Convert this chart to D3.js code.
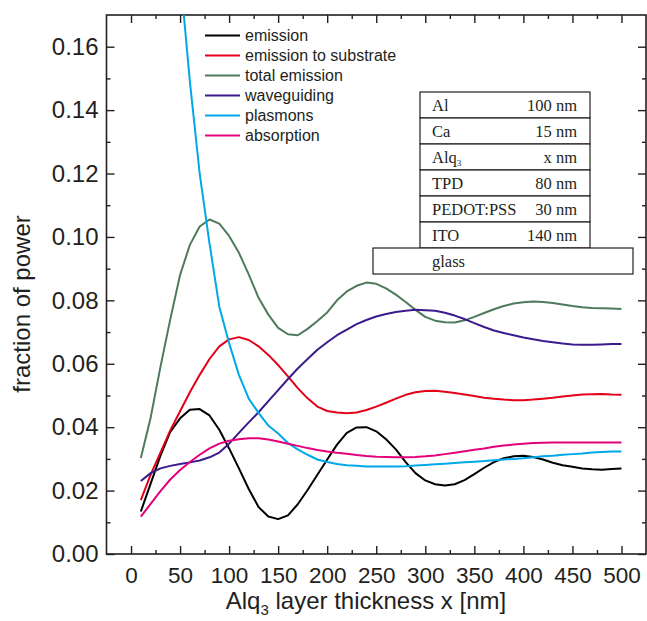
<!DOCTYPE html>
<html>
<head>
<meta charset="utf-8">
<script src="https://cdn.jsdelivr.net/npm/d3@7"></script>
<style>
  body { margin: 0; background: #fff; }
  svg { display: block; }
  .sans { font-family: "Liberation Sans", Arial, Helvetica, sans-serif; fill: #231f20; }
  .serif { font-family: "Liberation Serif", "Times New Roman", serif; fill: #231f20; }
</style>
</head>
<body>
<script>
// Alq3 thickness in nm (x values of every curve)
var thickness = [10, 20, 30, 40, 50, 60, 70, 80, 90, 100,
  110, 120, 130, 140, 150, 160, 170, 180, 190, 200,
  210, 220, 230, 240, 250, 260, 270, 280, 290, 300,
  310, 320, 330, 340, 350, 360, 370, 380, 390, 400,
  410, 420, 430, 440, 450, 460, 470, 480, 490, 500];

// fraction of power
var emission = [0.0134, 0.0222, 0.031, 0.0385, 0.0428, 0.0455, 0.0457, 0.0437, 0.0392, 0.0333,
  0.027, 0.0205, 0.0148, 0.0118, 0.011, 0.0122, 0.0157, 0.0202, 0.025, 0.0298,
  0.0345, 0.0382, 0.0399, 0.0400, 0.0387, 0.0362, 0.033, 0.029, 0.0255, 0.0232,
  0.022, 0.0216, 0.022, 0.0233, 0.0252, 0.0272, 0.029, 0.0302, 0.0308, 0.031,
  0.0306, 0.0298, 0.0288, 0.028, 0.0275, 0.027, 0.0267, 0.0266, 0.0268, 0.027];

var substrate = [0.017, 0.025, 0.032, 0.039, 0.045, 0.051, 0.0565, 0.0615, 0.0655, 0.0677,
  0.0684, 0.0675, 0.0655, 0.0628, 0.0596, 0.056, 0.0523, 0.0491, 0.0465, 0.0451,
  0.0446, 0.0444, 0.0446, 0.0454, 0.0465, 0.0477, 0.049, 0.0502, 0.051, 0.0514,
  0.0515, 0.0512, 0.0508, 0.0503, 0.0498, 0.0493, 0.049, 0.0487, 0.0485, 0.0485,
  0.0487, 0.049, 0.0493, 0.0497, 0.05, 0.0503, 0.0504, 0.0505, 0.0503, 0.0502];

var totalEmission = [0.0303, 0.043, 0.059, 0.074, 0.088, 0.0975, 0.1033, 0.1055, 0.1042, 0.1003,
  0.095, 0.0882, 0.0808, 0.0755, 0.0713, 0.0693, 0.069, 0.071, 0.0735, 0.0762,
  0.08, 0.0828, 0.0846, 0.0856, 0.0852, 0.0838, 0.0818, 0.0795, 0.077, 0.0748,
  0.0736, 0.0731, 0.073, 0.0737, 0.0748, 0.076, 0.0772, 0.0782, 0.079, 0.0794,
  0.0796, 0.0795, 0.0792, 0.0787, 0.0782, 0.0778, 0.0776, 0.0775, 0.0774, 0.0773];

var waveguiding = [0.023, 0.0255, 0.027, 0.0278, 0.0284, 0.0289, 0.0295, 0.0305, 0.032, 0.0348,
  0.0382, 0.0415, 0.0447, 0.0482, 0.0517, 0.0552, 0.0585, 0.0615, 0.0644, 0.0668,
  0.069, 0.0708, 0.0725, 0.0738, 0.0749, 0.0757, 0.0763, 0.0767, 0.077, 0.0769,
  0.0767, 0.0761, 0.0752, 0.0741, 0.0728, 0.0716, 0.0705, 0.0697, 0.069, 0.0683,
  0.0677, 0.0672, 0.0668, 0.0664, 0.0661, 0.066, 0.066, 0.0661, 0.0662, 0.0662];

var plasmons = [0.45, 0.35, 0.275, 0.22, 0.183, 0.149, 0.12, 0.098, 0.078, 0.0665,
  0.0565, 0.049, 0.0445, 0.0405, 0.038, 0.035, 0.033, 0.0313, 0.0298, 0.029,
  0.0284, 0.028, 0.0278, 0.0276, 0.0276, 0.0276, 0.0276, 0.0277, 0.0279, 0.0281,
  0.0283, 0.0285, 0.0287, 0.0289, 0.0291, 0.0293, 0.0296, 0.0298, 0.03, 0.0302,
  0.0305, 0.0308, 0.031, 0.0313, 0.0315, 0.0317, 0.032, 0.0322, 0.0323, 0.0323];

var absorption = [0.0118, 0.0158, 0.0198, 0.0235, 0.0265, 0.029, 0.0313, 0.0333, 0.0348, 0.0357,
  0.0362, 0.0365, 0.0365, 0.0361, 0.0355, 0.0348, 0.0341, 0.0334, 0.0328, 0.0323,
  0.0319, 0.0316, 0.0312, 0.0309, 0.0307, 0.0306, 0.0305, 0.0305, 0.0306, 0.0308,
  0.0311, 0.0315, 0.0319, 0.0324, 0.0329, 0.0333, 0.0338, 0.0342, 0.0345, 0.0348,
  0.035, 0.0351, 0.0352, 0.0352, 0.0352, 0.0352, 0.0352, 0.0352, 0.0352, 0.0352];

var seriesNames = ["emission", "emission to substrate", "total emission", "waveguiding", "plasmons", "absorption"];
var seriesColors = ["#000000", "#e2001a", "#4e7a5c", "#3a1a8c", "#00a8e8", "#e4007c"];
var seriesValues = [emission, substrate, totalEmission, waveguiding, plasmons, absorption];

// layer stack of the device (drawn as a small table)
var layerNames = ["Al", "Ca", "Alq", "TPD", "PEDOT:PSS", "ITO"];
var layerThickness = ["100 nm", "15 nm", "x nm", "80 nm", "30 nm", "140 nm"];

var xMajor = [0, 50, 100, 150, 200, 250, 300, 350, 400, 450, 500];
var xMinor = [25, 75, 125, 175, 225, 275, 325, 375, 425, 475];
var yMajor = [0, 0.02, 0.04, 0.06, 0.08, 0.10, 0.12, 0.14, 0.16];
var yMinor = [0.01, 0.03, 0.05, 0.07, 0.09, 0.11, 0.13, 0.15];

var svg_width = 647;
var svg_height = 621;
var plotLeft = 106.5, plotRight = 646, plotTop = 15, plotBottom = 554;

var svg = d3.select("body").append("svg")
  .attr("width", svg_width)
  .attr("height", svg_height);

var xScale = d3.scaleLinear().domain([-25, 525]).range([plotLeft, plotRight]);
var yScale = d3.scaleLinear().domain([0, 0.17]).range([plotBottom, plotTop]);

// clip so the plasmon curve stops at the top frame
svg.append("clipPath").attr("id", "plotclip")
  .append("rect")
  .attr("x", plotLeft).attr("y", plotTop)
  .attr("width", plotRight - plotLeft).attr("height", plotBottom - plotTop);

// axes: ticks point inward on all four sides
function styleAxis(g) {
  g.select(".domain").remove();
  g.selectAll(".tick line").attr("stroke", "#231f20").attr("stroke-width", 1.4);
  g.selectAll(".tick text").attr("class", "sans").attr("fill", "#231f20");
}

svg.append("g")
  .attr("transform", "translate(0," + plotBottom + ")")
  .call(d3.axisBottom(xScale).tickValues(xMajor).tickSize(-8).tickPadding(13).tickFormat(d3.format("d")))
  .call(styleAxis)
  .selectAll("text").style("font-size", "22.5px");

svg.append("g")
  .attr("transform", "translate(0," + plotBottom + ")")
  .call(d3.axisBottom(xScale).tickValues(xMinor).tickSize(-4).tickFormat(""))
  .call(styleAxis);

svg.append("g")
  .attr("transform", "translate(0," + plotTop + ")")
  .call(d3.axisTop(xScale).tickValues(xMajor).tickSize(-8).tickFormat(""))
  .call(styleAxis);

svg.append("g")
  .attr("transform", "translate(0," + plotTop + ")")
  .call(d3.axisTop(xScale).tickValues(xMinor).tickSize(-4).tickFormat(""))
  .call(styleAxis);

svg.append("g")
  .attr("transform", "translate(" + plotLeft + ",0)")
  .call(d3.axisLeft(yScale).tickValues(yMajor).tickSize(-8).tickPadding(8).tickFormat(d3.format(".2f")))
  .call(styleAxis)
  .selectAll("text").style("font-size", "24px");

svg.append("g")
  .attr("transform", "translate(" + plotLeft + ",0)")
  .call(d3.axisLeft(yScale).tickValues(yMinor).tickSize(-4).tickFormat(""))
  .call(styleAxis);

svg.append("g")
  .attr("transform", "translate(" + plotRight + ",0)")
  .call(d3.axisRight(yScale).tickValues(yMajor).tickSize(-8).tickFormat(""))
  .call(styleAxis);

svg.append("g")
  .attr("transform", "translate(" + plotRight + ",0)")
  .call(d3.axisRight(yScale).tickValues(yMinor).tickSize(-4).tickFormat(""))
  .call(styleAxis);

// frame
svg.append("rect")
  .attr("x", plotLeft).attr("y", plotTop)
  .attr("width", plotRight - plotLeft).attr("height", plotBottom - plotTop)
  .attr("fill", "none")
  .attr("stroke", "#231f20")
  .attr("stroke-width", 1.6);

// curves
var line = d3.line()
  .x(function(d, i) { return xScale(thickness[i]); })
  .y(function(d) { return yScale(d); });

svg.append("g").attr("clip-path", "url(#plotclip)")
  .selectAll("path")
  .data(seriesValues)
  .enter()
  .append("path")
  .attr("d", line)
  .attr("fill", "none")
  .attr("stroke", function(d, i) { return seriesColors[i]; })
  .attr("stroke-width", 2)
  .attr("stroke-linejoin", "round");

// legend
var legend = svg.append("g");
legend.selectAll("line")
  .data(seriesNames)
  .enter()
  .append("line")
  .attr("x1", 205).attr("x2", 240)
  .attr("y1", function(d, i) { return 35.5 + i * 20; })
  .attr("y2", function(d, i) { return 35.5 + i * 20; })
  .attr("stroke", function(d, i) { return seriesColors[i]; })
  .attr("stroke-width", 2);

legend.selectAll("text")
  .data(seriesNames)
  .enter()
  .append("text")
  .attr("class", "sans")
  .attr("x", 245)
  .attr("y", function(d, i) { return 35.5 + i * 20; })
  .attr("dy", "0.35em")
  .style("font-size", "16px")
  .text(function(d) { return d; });

// layer stack table
var rowH = 26, boxLeft = 420, boxRight = 590, boxTop = 92;
var table = svg.append("g");
layerNames.forEach(function(name, i) {
  var yTop = boxTop + i * rowH;
  table.append("rect")
    .attr("x", boxLeft).attr("y", yTop)
    .attr("width", boxRight - boxLeft).attr("height", rowH)
    .attr("fill", "#fff").attr("stroke", "#231f20").attr("stroke-width", 1.2);
  var t = table.append("text")
    .attr("class", "serif")
    .attr("x", boxLeft + 12)
    .attr("y", yTop + rowH / 2 + 5.5)
    .style("font-size", "16.5px")
    .text(name);
  if (name === "Alq") {
    t.append("tspan").attr("dy", 3).style("font-size", "9px").text("3");
  }
  table.append("text")
    .attr("class", "serif")
    .attr("x", boxRight - 13)
    .attr("y", yTop + rowH / 2 + 5.5)
    .attr("text-anchor", "end")
    .style("font-size", "16.5px")
    .text(layerThickness[i]);
});
var glassTop = boxTop + layerNames.length * rowH;
table.append("rect")
  .attr("x", 373).attr("y", glassTop)
  .attr("width", 260).attr("height", rowH)
  .attr("fill", "#fff").attr("stroke", "#231f20").attr("stroke-width", 1.2);
table.append("text")
  .attr("class", "serif")
  .attr("x", 432)
  .attr("y", glassTop + rowH / 2 + 5.5)
  .style("font-size", "16.5px")
  .text("glass");

// axis titles
var xTitle = svg.append("text")
  .attr("class", "sans")
  .attr("x", 366)
  .attr("y", 609)
  .attr("text-anchor", "middle")
  .style("font-size", "24px");
xTitle.append("tspan").text("Alq");
xTitle.append("tspan").attr("dy", 6).style("font-size", "15px").text("3");
xTitle.append("tspan").attr("dy", -6).text(" layer thickness x [nm]");

svg.append("text")
  .attr("class", "sans")
  .attr("text-anchor", "middle")
  .attr("transform", "translate(30,304) rotate(-90)")
  .style("font-size", "24px")
  .text("fraction of power");
</script>
</body>
</html>
